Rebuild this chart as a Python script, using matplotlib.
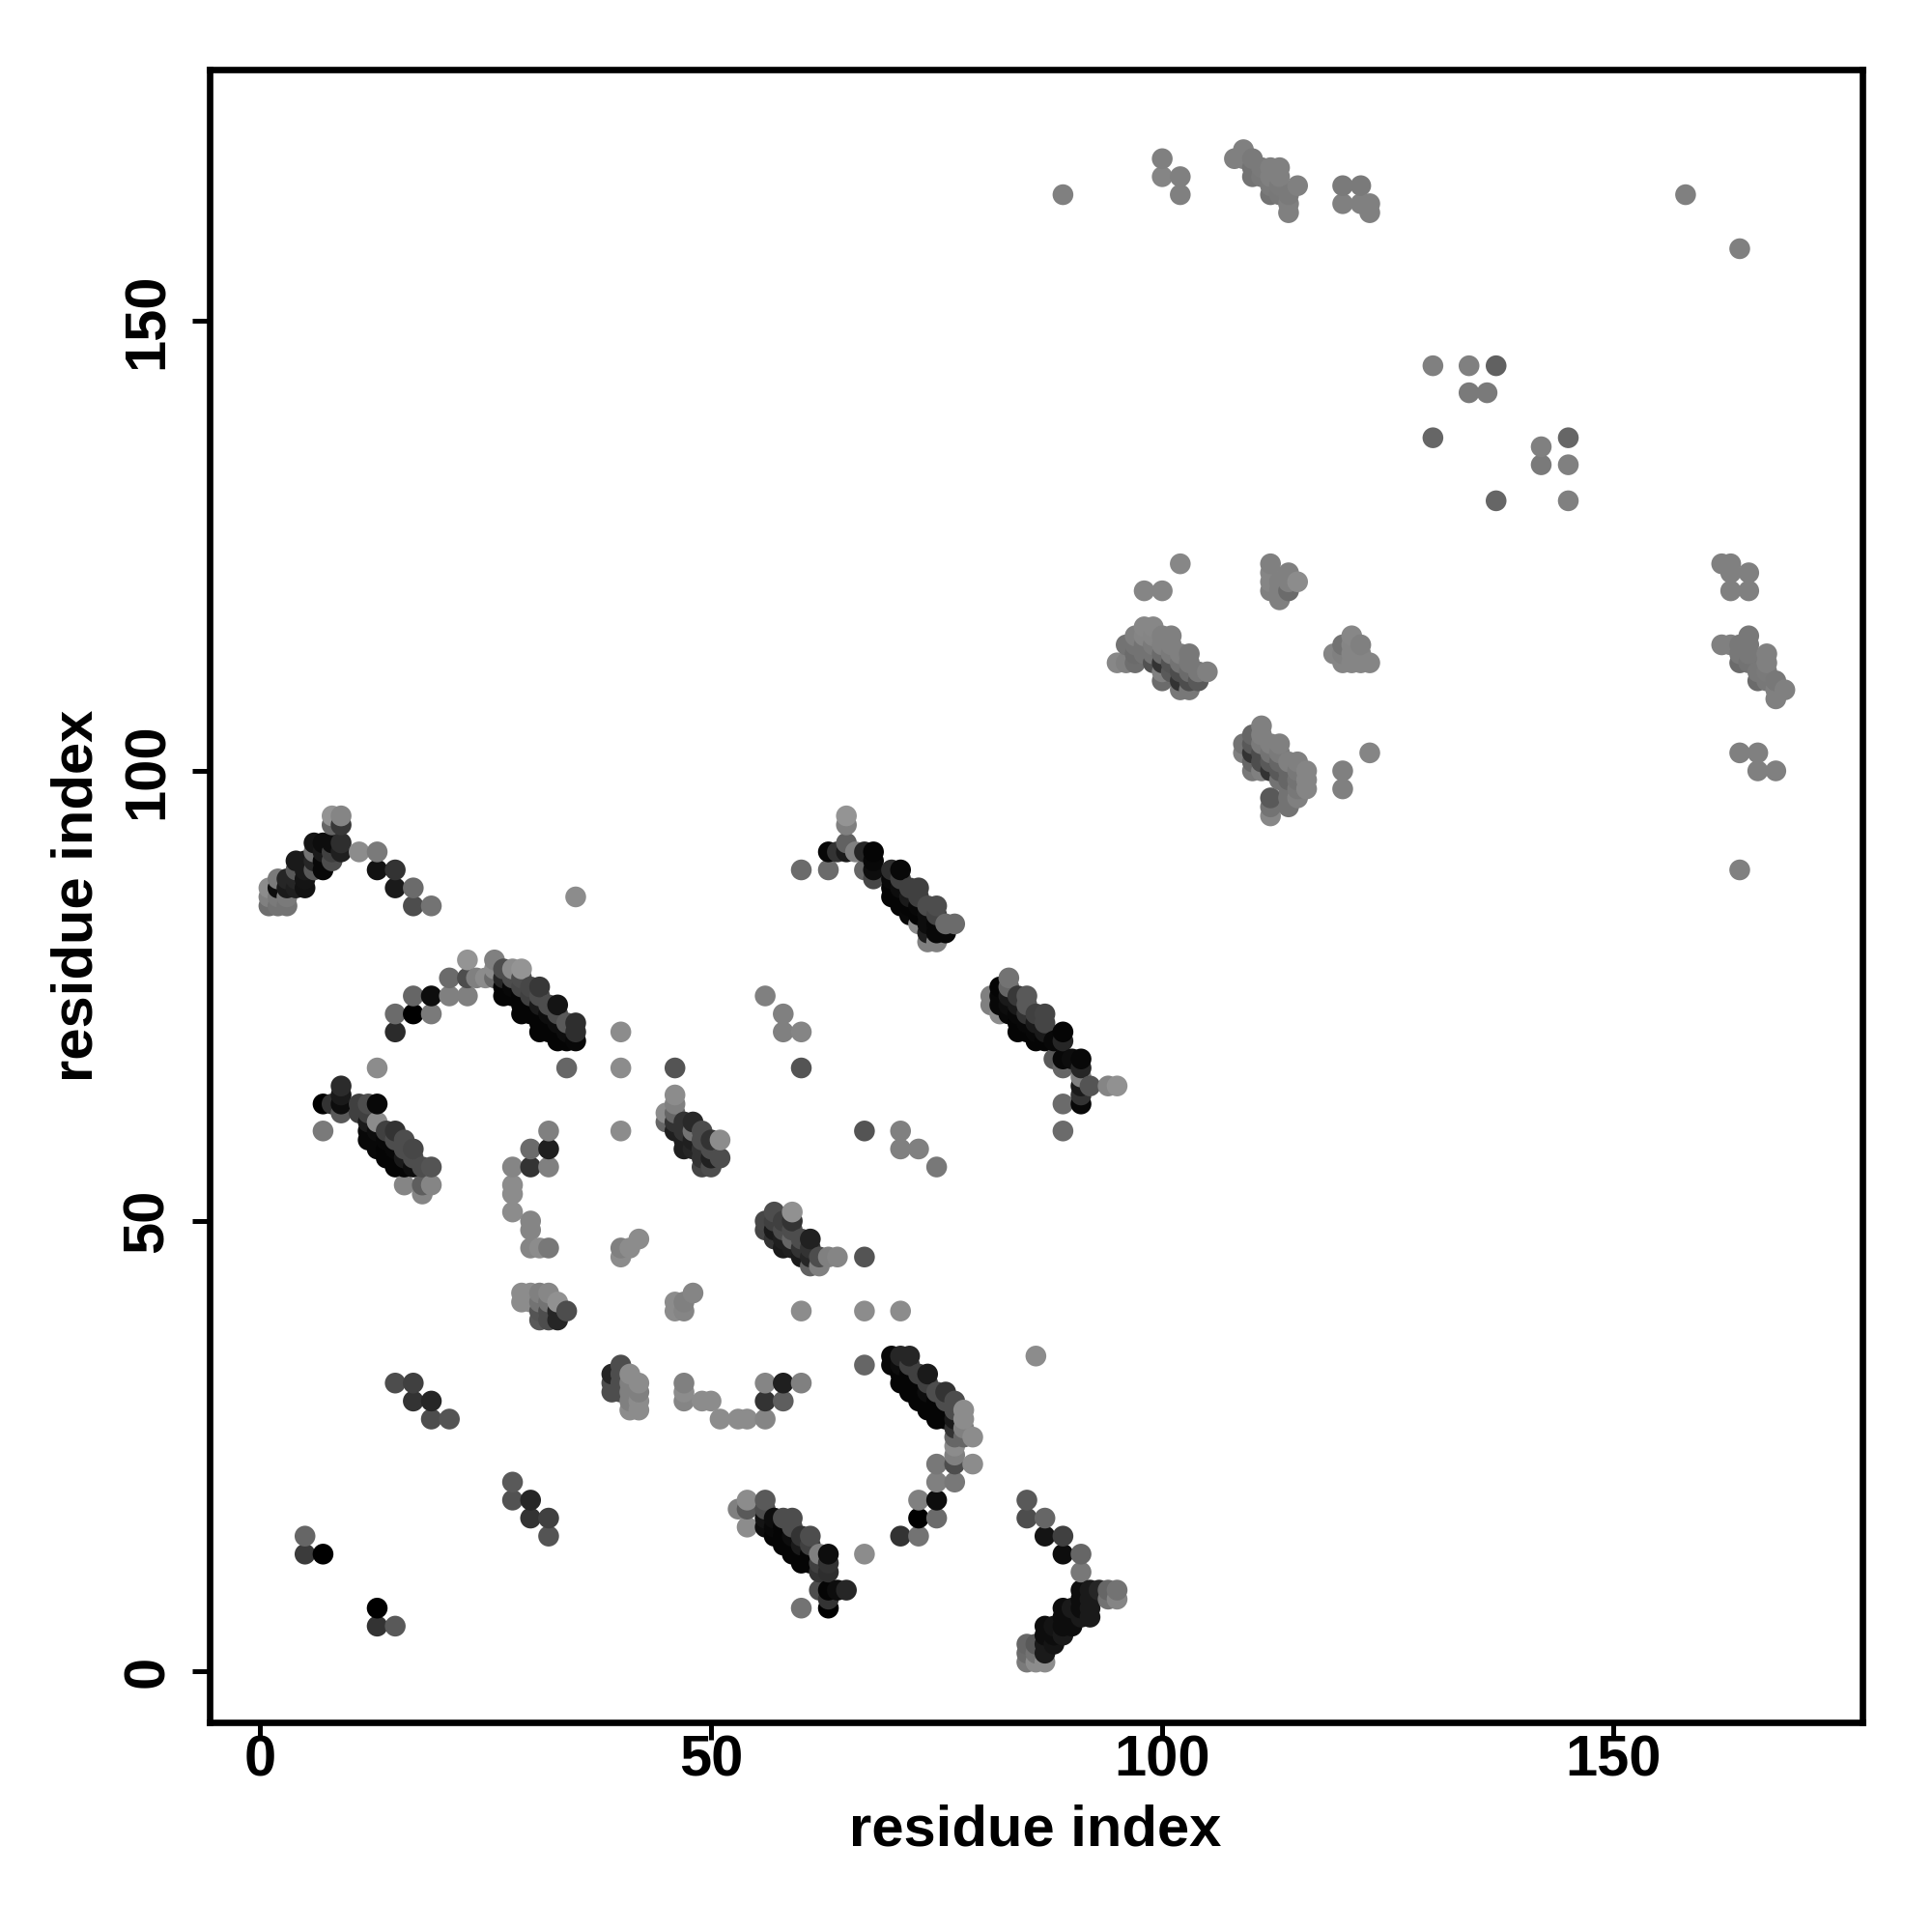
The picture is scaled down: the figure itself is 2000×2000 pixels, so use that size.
import numpy as np
import matplotlib
matplotlib.use("Agg")
import matplotlib.pyplot as plt

plt.rcParams['font.family'] = ['Liberation Sans', 'DejaVu Sans']

# contacts: (residue x, residue y, grey level)
sparse_low = [
    (5,15,.40),(5,13,.23),(7,13,.0),(13,7,.0),(13,5,.2),(15,5,.35),
    (15,32,.3),(17,32,.25),(17,30,.2),(19,30,.15),(19,28,.3),(21,28,.33),
    (28,21,.35),(28,19,.32),(30,19,.15),(30,17,.2),(32,17,.25),(32,15,.33),
    (46,40,.55),(47,40,.52),(60,40,.55),(67,40,.55),(71,40,.55),(86,35,.55),(67,34,.4),
    (46,41,.55),(47,41,.5),(48,42,.52),
    (47,32,.5),(47,31,.55),(47,30,.52),(49,30,.55),(50,30,.55),(51,28,.55),(53,28,.55),(54,28,.55),
    (56,28,.52),(56,32,.52),(58,32,.12),(60,32,.5),(56,30,.2),(58,30,.37),(67,13,.55),
    (85,19,.35),(85,17,.3),(87,17,.4),(87,15,.08),(89,15,.25),(89,13,.05),(91,13,.4),(91,11,.47),
]
cluster_40_32 = [
    (39,33,.15),(39,32,.3),(39,31,.3),(40,34,.3),(40,33,.3),(40,32,.3),(40,31,.3),
    (41,33,.55),(41,32,.5),(41,31,.5),(41,30,.5),(41,29,.55),(42,32,.55),(42,31,.5),(42,30,.55),(42,29,.55),
]
band_72_31 = [
    (70,35,.03),(71,35,.15),(72,35,.15),(70,34,.03),(71,34,.05),(72,34,.25),
    (71,33,.02),(72,33,.02),(73,33,.25),(74,33,.1),(71,32,.02),(72,32,.02),(73,32,.02),(74,32,.25),
    (72,31,.02),(73,31,.02),(74,31,.05),(75,31,.3),(76,31,.2),(73,30,.02),(74,30,.02),(75,30,.02),(76,30,.3),(77,30,.3),
    (74,29,.02),(75,29,.02),(76,29,.02),(77,29,.3),(78,29,.55),(75,28,.02),(76,28,.02),(77,28,.1),(78,28,.55),
    (77,27,.2),(78,27,.5),(77,26,.4),(78,26,.4),(79,26,.55),(77,25,.55),(77,24,.5),(77,23,.3),
    (75,23,.47),(79,23,.55),(75,21,.5),(77,21,.47),(73,19,.5),(75,19,.05),(73,17,.0),(75,17,.42),(71,15,.2),(73,15,.45),
]
band_58_15 = [
    (53,18,.5),(54,19,.55),(54,18,.35),(54,16,.55),(56,19,.35),(56,18,.3),(56,17,.08),(56,16,.05),
    (57,17,.05),(58,17,.3),(59,17,.3),(57,16,.03),(58,16,.02),(59,16,.3),
    (57,15,.02),(58,15,.02),(59,15,.05),(60,15,.2),(61,15,.3),(58,14,.02),(59,14,.02),(60,14,.1),(61,14,.25),
    (59,13,.02),(60,13,.02),(61,13,.02),(62,13,.5),(63,13,.05),(60,12,.02),(61,12,.02),(62,12,.25),(63,12,.2),
    (62,11,.2),(63,11,.18),(62,9,.3),(63,9,.02),(64,9,.05),(65,9,.15),(63,8,.2),(63,7,.0),(60,7,.45),
]
band_88_5 = [
    (85,3,.4),(85,2,.42),(85,1,.48),(86,3,.35),(86,2,.45),(86,1,.55),(87,3,.1),(87,2,.1),(87,1,.55),
    (87,5,.05),(87,4,.05),(88,5,.08),(88,4,.05),(88,3,.08),(89,7,.05),(89,6,.05),(89,5,.05),(89,4,.1),
    (90,7,.1),(90,6,.05),(90,5,.05),(91,9,.05),(91,8,.05),(91,7,.05),(91,6,.1),(92,9,.1),(92,8,.1),(92,7,.1),(92,6,.1),
    (93,9,.15),(94,9,.4),(94,8,.45),(95,9,.45),(95,8,.52),
]
sparse_mid = [
    (17,75,.4),(19,75,.05),(21,75,.5),(23,75,.5),(15,73,.42),(17,73,.0),(19,73,.48),(15,71,.17),
    (13,67,.55),(34,67,.4),(40,71,.55),(40,67,.55),(40,60,.55),
    (32,60,.5),(30,58,.42),(32,58,.12),(28,56,.52),(30,56,.2),(32,56,.5),(28,54,.55),(28,53,.55),(28,51,.55),
    (30,50,.52),(30,49,.52),(30,47,.52),(31,47,.55),(32,47,.47),(40,47,.5),(40,46,.55),(41,47,.55),(42,48,.55),
    (56,75,.5),(58,73,.5),(58,71,.5),(60,71,.52),(60,67,.33),(46,67,.33),
    (67,60,.33),(71,60,.5),(71,58,.5),(73,58,.5),(75,56,.47),(67,46,.33),
    (60,89,.42),(63,89,.42),(89,60,.42),(89,63,.42),(35,86,.55),
]
cluster_31_41 = [
    (29,42,.55),(29,41,.55),(30,42,.55),(30,41,.55),(31,42,.5),(32,42,.53),(31,41,.45),(32,41,.45),(33,41,.57),
    (34,40,.3),(31,40,.33),(32,40,.3),(33,40,.15),(31,39,.35),(32,39,.3),(33,39,.15),
]
band_14_60 = [
    (9,65,.17),(9,64,.1),(7,63,.0),(8,63,.2),(9,63,.05),(11,63,.25),(12,63,.3),(13,63,.03),(9,62,.35),(11,62,.25),(12,62,.25),
    (12,61,.1),(13,61,.55),(7,60,.48),(12,60,.03),(13,60,.05),(14,60,.25),(15,60,.2),
    (12,59,.03),(13,59,.03),(14,59,.03),(15,59,.3),(16,59,.3),(13,58,.03),(14,58,.02),(15,58,.03),(16,58,.3),(17,58,.28),
    (14,57,.02),(15,57,.02),(16,57,.1),(17,57,.3),(15,56,.02),(16,56,.02),(17,56,.05),(18,56,.3),(19,56,.33),
    (16,54,.52),(18,54,.37),(19,54,.52),(18,53,.52),
]
band_6_90 = [
    (8,95,.58),(9,95,.52),(8,94,.4),(9,94,.22),(6,92,.08),(7,92,.05),(8,92,.05),(9,92,.18),
    (6,91,.45),(7,91,.1),(8,91,.25),(9,91,.12),(11,91,.55),(13,91,.48),
    (4,90,.1),(5,90,.1),(6,90,.15),(7,90,.03),(8,90,.3),(4,89,.35),(5,89,.1),(6,89,.35),(7,89,.03),(13,89,.07),(15,89,.2),
    (2,88,.48),(3,88,.15),(4,88,.15),(5,88,.08),(1,87,.55),(2,87,.05),(3,87,.1),(4,87,.12),(5,87,.07),(15,87,.1),(17,87,.42),
    (1,86,.5),(2,86,.48),(3,86,.48),(1,85,.43),(2,85,.45),(3,85,.45),(17,85,.3),(19,85,.45),
]
band_30_74 = [
    (23,79,.58),(26,79,.5),(26,78,.55),(27,78,.3),(28,78,.55),(29,78,.58),
    (21,77,.42),(23,77,.3),(24,77,.5),(25,77,.55),(26,77,.42),(27,77,.15),(28,77,.3),(29,77,.3),
    (27,76,.02),(28,76,.03),(29,76,.28),(30,76,.28),(31,76,.22),(27,75,.02),(28,75,.02),(29,75,.02),(30,75,.25),(31,75,.3),
    (29,74,.02),(30,74,.02),(31,74,.1),(32,74,.3),(33,74,.08),(29,73,.02),(30,73,.02),(31,73,.02),(32,73,.05),(33,73,.3),
    (31,72,.02),(32,72,.02),(33,72,.05),(34,72,.35),(35,72,.18),(31,71,.02),(32,71,.02),(33,71,.02),(34,71,.05),(35,71,.18),
    (33,70,.02),(34,70,.02),(35,70,.03),
]
band_48_60 = [
    (46,64,.55),(46,63,.5),(45,62,.55),(46,62,.4),(45,61,.4),(46,61,.2),(47,61,.2),(48,61,.16),
    (46,60,.12),(47,60,.2),(48,60,.45),(49,60,.3),(47,59,.12),(48,59,.12),(49,59,.3),(50,59,.2),(51,59,.55),
    (47,58,.12),(48,58,.15),(49,58,.2),(50,58,.3),(49,57,.2),(50,57,.13),(51,57,.3),(49,56,.27),(50,56,.3),
]
band_59_48 = [
    (57,51,.3),(59,51,.57),(56,50,.28),(57,50,.25),(58,50,.25),(59,50,.2),(56,49,.27),(57,49,.1),(58,49,.3),(59,49,.3),
    (57,48,.2),(58,48,.12),(59,48,.4),(60,48,.3),(61,48,.13),(58,47,.1),(59,47,.12),(60,47,.2),(61,47,.2),
    (60,46,.1),(61,46,.15),(62,46,.3),(63,46,.5),(64,46,.52),(61,45,.38),(62,45,.5),
]
band_72_86 = [
    (65,95,.58),(65,94,.5),(65,92,.38),(63,91,.03),(64,91,.2),(65,91,.1),(66,91,.5),(67,91,.15),(68,91,.02),
    (68,90,.03),(67,89,.4),(68,89,.05),(68,88,.28),(70,89,.18),(71,89,.03),(70,88,.03),(71,88,.25),
    (70,87,.02),(71,87,.05),(72,87,.25),(73,87,.25),(70,86,.02),(71,86,.02),(72,86,.1),(73,86,.25),
    (71,85,.02),(72,85,.02),(73,85,.03),(74,85,.3),(75,85,.3),(72,84,.03),(73,84,.02),(74,84,.05),(75,84,.27),
    (73,83,.55),(74,83,.05),(75,83,.03),(76,83,.42),(77,83,.42),(74,82,.12),(75,82,.03),(76,82,.03),(74,81,.5),(75,81,.5),
]
band_85_73 = [
    (83,77,.45),(82,76,.02),(83,76,.4),(81,75,.5),(82,75,.03),(83,75,.1),(84,75,.22),(85,75,.35),
    (81,74,.5),(82,74,.03),(83,74,.05),(84,74,.1),(85,74,.35),(82,73,.55),(83,73,.03),(84,73,.03),(85,73,.2),(86,73,.25),(87,73,.27),
    (84,72,.02),(85,72,.03),(86,72,.1),(87,72,.27),(84,71,.02),(85,71,.02),(86,71,.03),(87,71,.1),(89,71,.02),
    (86,70,.02),(87,70,.02),(88,70,.03),(89,70,.15),(88,68,.35),(89,68,.03),(90,68,.05),(91,68,.03),(89,67,.4),(91,67,.15),
    (91,66,.5),(91,65,.1),(92,65,.33),(94,65,.52),(95,65,.57),(91,64,.2),(91,63,.03),
]
cluster_100_112 = [
    (102,123,.53),(98,120,.52),(100,120,.52),
    (98,116,.53),(99,116,.53),(97,115,.5),(98,115,.52),(99,115,.52),(100,115,.5),(101,115,.5),
    (96,114,.45),(97,114,.45),(98,114,.45),(99,114,.48),(100,114,.5),(101,114,.5),
    (97,113,.42),(98,113,.45),(99,113,.45),(100,113,.42),(101,113,.48),(102,113,.5),(103,113,.47),
    (95,112,.53),(96,112,.5),(97,112,.43),(99,112,.32),(100,112,.2),(101,112,.33),(102,112,.45),(103,112,.47),
    (100,111,.5),(101,111,.35),(102,111,.3),(103,111,.42),(104,111,.47),(105,111,.5),
    (100,110,.42),(102,110,.2),(103,110,.3),(104,110,.35),(102,109,.47),(103,109,.47),
]
cluster_113_120 = [
    (112,123,.5),(112,122,.52),(112,121,.52),(112,120,.5),(113,121,.5),(113,120,.5),(113,119,.5),
    (114,122,.5),(114,121,.5),(114,120,.42),(115,121,.55),
    (121,115,.53),(120,114,.45),(121,114,.52),(122,114,.5),(119,113,.52),(120,113,.5),(121,113,.52),(122,113,.52),
    (120,112,.52),(121,112,.52),(122,112,.52),(123,112,.52),
]
cluster_112_101 = [
    (111,105,.5),(110,104,.4),(111,104,.5),(109,103,.45),(110,103,.35),(111,103,.48),(112,103,.5),(113,103,.5),
    (109,102,.5),(110,102,.2),(111,102,.3),(112,102,.45),(113,102,.48),
    (110,101,.4),(111,101,.3),(112,101,.35),(113,101,.4),(114,101,.5),(115,101,.5),
    (110,100,.47),(111,100,.5),(112,100,.2),(113,100,.35),(114,100,.4),(115,100,.47),(116,100,.52),
    (113,99,.45),(114,99,.4),(115,99,.45),(116,99,.52),(114,98,.45),(115,98,.47),(116,98,.52),
    (112,97,.35),(114,97,.45),(115,97,.5),(112,96,.45),(114,96,.45),(112,95,.53),
    (123,102,.52),(120,100,.5),(120,98,.5),
]
top_cluster = [
    (108,168,.5),(109,169,.5),(109,168,.5),(110,168,.48),(110,167,.45),(110,166,.45),(111,167,.48),(111,166,.47),
    (112,167,.5),(113,167,.5),(112,166,.5),(113,166,.5),(112,165,.48),(113,165,.48),(112,164,.45),(113,164,.47),
    (114,164,.48),(114,163,.5),(114,162,.5),(115,165,.5),
    (120,165,.48),(122,165,.48),(120,163,.5),(122,163,.5),(123,163,.5),(123,162,.5),
    (89,164,.5),(100,168,.5),(100,166,.52),(102,166,.5),(102,164,.5),(158,164,.5),(164,158,.5),
]
middle_sparse = [
    (130,145,.5),(134,145,.5),(137,145,.38),(134,142,.48),(136,142,.48),(130,137,.4),(145,137,.4),
    (142,136,.5),(142,134,.48),(145,134,.5),(137,130,.4),(145,130,.5),
]
right_cluster = [
    (162,123,.5),(163,123,.5),(163,122,.5),(165,122,.5),(163,120,.5),(165,120,.5),
    (162,114,.5),(163,114,.5),(164,114,.47),(165,115,.47),(165,114,.47),(164,113,.47),(165,113,.47),(167,113,.5),
    (164,112,.42),(165,112,.45),(167,112,.5),(166,111,.47),(167,111,.48),(166,110,.42),(167,110,.47),(168,110,.47),
    (168,109,.5),(169,109,.5),(168,108,.5),
    (164,102,.5),(166,102,.5),(166,100,.5),(168,100,.5),(164,89,.5),
]

clusters = [sparse_low, cluster_40_32, band_72_31, band_58_15, band_88_5, sparse_mid, cluster_31_41,
            band_14_60, band_6_90, band_30_74, band_48_60, band_59_48, band_72_86, band_85_73,
            cluster_100_112, cluster_113_120, cluster_112_101, top_cluster, middle_sparse, right_cluster]

tick_values = [0, 50, 100, 150]
axis_label = "residue index"

pts = np.array([p for c in clusters for p in c])
# later columns and higher rows sit on top in the original
order = np.lexsort((pts[:, 1], pts[:, 0]))
pts = pts[order]

fig = plt.figure(figsize=(20, 20), dpi=100)
ax = fig.add_axes([217/2000, 1 - 1783/2000, (1928-217)/2000, (1783-72)/2000])
ax.scatter(pts[:, 0], pts[:, 1], s=240, c=[str(g) for g in pts[:, 2]], linewidths=0, clip_on=True)

ax.set_xlim(-5.57, 177.6)
ax.set_ylim(-5.69, 177.9)
ax.set_xticks(tick_values)
ax.set_yticks(tick_values)
for s in ax.spines.values():
    s.set_linewidth(4.8)
ax.tick_params(length=13, width=3.6, labelsize=43)
ax.tick_params(axis='x', pad=-4)
ax.tick_params(axis='y', pad=13)
for t in ax.get_xticklabels():
    t.set_fontweight('bold')
for t in ax.get_yticklabels():
    t.set_fontweight('bold')
    t.set_rotation(90)
    t.set_va('center')

fig.text(1072/2000, 1 - 1895/2000, axis_label, ha='center', va='center', fontsize=43, fontweight='bold')
fig.text(80/2000, 1 - 927/2000, axis_label, ha='center', va='center', rotation=90, fontsize=43, fontweight='bold')

fig.savefig("out.png", dpi=100, facecolor='white')
